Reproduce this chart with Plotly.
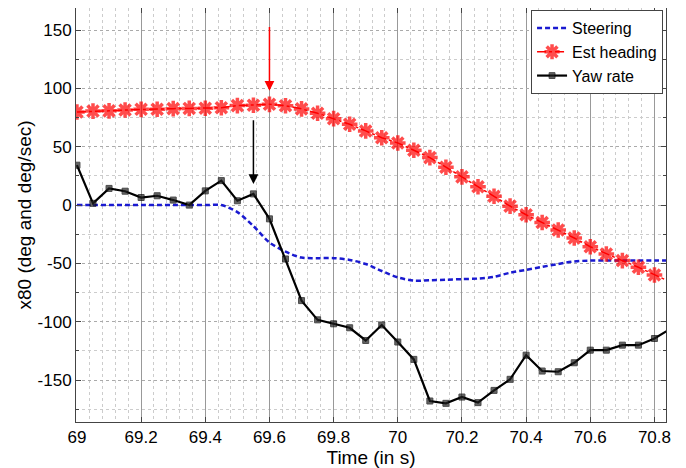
import plotly.graph_objects as go

time = [69.00, 69.05, 69.10, 69.15, 69.20, 69.25, 69.30, 69.35, 69.40, 69.45,
        69.50, 69.55, 69.60, 69.65, 69.70, 69.75, 69.80, 69.85, 69.90, 69.95,
        70.00, 70.05, 70.10, 70.15, 70.20, 70.25, 70.30, 70.35, 70.40, 70.45,
        70.50, 70.55, 70.60, 70.65, 70.70, 70.75, 70.80, 70.85]

steering = [0, 0, 0, 0, 0, 0, 0, 0, 0, 0,
            -6, -18, -32, -40, -45, -45.5, -45.5, -47, -50.5, -56.5,
            -62, -64.8, -64.5, -64, -63.5, -63, -61.5, -58, -55.5, -53,
            -50.5, -48.3, -47.6, -47.6, -47.6, -47.6, -47.6, -47.6]

est_heading = [79.8, 80.6, 80.8, 81.5, 82.1, 82.2, 82.7, 82.9, 83.1, 83.5,
               85.3, 85.6, 86.4, 85.2, 82.5, 78.7, 74.1, 69.3, 63.6, 57.8,
               53.3, 47.0, 40.7, 32.5, 24.2, 15.7, 7.6, -0.9, -8.3, -14.9,
               -21.4, -28.2, -35.7, -41.9, -47.6, -53.3, -59.9, -66.0]

yaw_rate = [34.2, 1.5, 14.3, 11.9, 6.5, 8.0, 4.3, 0.0, 12.2, 21.0,
            3.7, 9.6, -11.8, -46.2, -81.9, -98.4, -101.8, -105.2, -116.1, -102.8,
            -117.4, -132.3, -168.0, -170.0, -164.6, -169.4, -158.9, -149.4, -128.7, -142.3,
            -142.9, -135.2, -124.4, -124.4, -120.1, -120.1, -114.4, -106.0]

x_ticks = [69, 69.2, 69.4, 69.6, 69.8, 70, 70.2, 70.4, 70.6, 70.8]
x_tick_labels = ["69", "69.2", "69.4", "69.6", "69.8", "70", "70.2", "70.4", "70.6", "70.8"]
y_ticks = [-150, -100, -50, 0, 50, 100, 150]
y_tick_labels = ["-150", "-100", "-50", "0", "50", "100", "150"]

# arrows: (x, tail y, head y)
red_arrow = (69.6, 154, 98)
black_arrow = (69.55, 74, 18)

FONT = "Liberation Sans, Arial, sans-serif"

n = len(time)
msize_star = [13] * (n - 1) + [0]
msize_sq = [6] * (n - 1) + [0]

fig = go.Figure()
fig.add_trace(go.Scatter(
    x=time, y=steering, mode="lines", name="Steering",
    line=dict(color="#1a1ad0", width=2.5, dash="5px,3px", shape="spline", smoothing=0.8),
))
fig.add_trace(go.Scatter(
    x=time, y=est_heading, mode="lines+markers", name="Est heading",
    line=dict(color="#ff0000", width=1.5, dash="dashdot"),
    marker=dict(symbol="asterisk-open", size=msize_star, color="#ff0000",
                line=dict(color="#ff0000", width=3.5)),
))
fig.add_trace(go.Scatter(
    x=time, y=yaw_rate, mode="lines+markers", name="Yaw rate",
    line=dict(color="#000000", width=2.2),
    marker=dict(symbol="square", size=msize_sq, color="#222222",
                line=dict(color="#000000", width=1)),
))

for (ax_x, tail, head), col in [(red_arrow, "#ff0000"), (black_arrow, "#000000")]:
    fig.add_annotation(
        x=ax_x, y=head, ax=ax_x, ay=tail, xref="x", yref="y", axref="x", ayref="y",
        showarrow=True, arrowhead=2, arrowsize=1.3, arrowwidth=1.5, arrowcolor=col, text="",
    )

# The page adds an 8px body margin, so the figure is sized to fit the 686x468 window.
fig.update_layout(
    width=678, height=460,
    margin=dict(l=68, r=20, t=0, b=46, autoexpand=False),
    paper_bgcolor="white", plot_bgcolor="white",
    font=dict(family=FONT, size=17, color="black"),
    legend=dict(
        x=0.995, y=0.995, xanchor="right", yanchor="top",
        bgcolor="white", bordercolor="#444", borderwidth=1,
        font=dict(size=16), tracegroupgap=0, itemwidth=30,
    ),
    showlegend=True,
)

fig.update_xaxes(
    automargin=False,
    range=[68.997, 70.836],
    tickvals=x_ticks, ticktext=x_tick_labels,
    ticks="inside", ticklen=5, tickcolor="#444",
    showline=True, linecolor="#444", linewidth=1, mirror="ticks",
    showgrid=True, gridcolor="#999999", gridwidth=1,
    minor=dict(dtick=0.04, showgrid=True, gridcolor="#cccccc", griddash="dot", gridwidth=1),
    zeroline=False,
    title=dict(text="Time (in s)", font=dict(size=19), standoff=6),
    tickfont=dict(size=17),
)
fig.update_yaxes(
    automargin=False,
    range=[-186, 169],
    tickvals=y_ticks, ticktext=y_tick_labels,
    ticks="inside", ticklen=5, tickcolor="#444",
    showline=True, linecolor="#444", linewidth=1, mirror="ticks",
    showgrid=True, gridcolor="#aaaaaa", griddash="dot", gridwidth=1,
    minor=dict(dtick=25, tick0=0, showgrid=True, gridcolor="#cccccc", griddash="dot",
               ticks="inside", ticklen=3, tickcolor="#444"),
    zeroline=False,
    title=dict(text="x80 (deg and deg/sec)", font=dict(size=19), standoff=0),
    tickfont=dict(size=17),
)

fig.write_html("out.html")
